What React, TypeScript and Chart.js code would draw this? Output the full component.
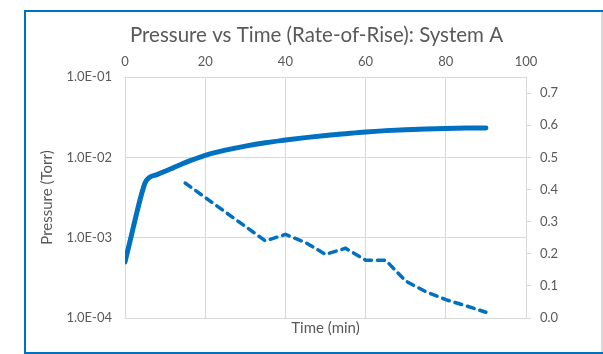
import React, { useEffect, useRef } from "react";
import { Chart, registerables } from "chart.js";

Chart.register(...registerables);

const chartTitle = "Pressure vs Time (Rate-of-Rise): System A";
const xAxisTitle = "Time (min)";
const yAxisTitle = "Pressure (Torr)";

const pressureTime = [0, 1, 2, 3, 4, 5, 6, 8, 10, 12, 15, 20, 25, 30, 35, 40, 45, 50, 55, 60, 65, 70, 75, 80, 85, 90];
const pressureTorr = [
  5.0e-4, 8.0e-4, 1.3e-3, 2.1e-3, 3.3e-3, 4.8e-3, 5.6e-3, 6.1e-3, 6.7e-3, 7.4e-3, 8.6e-3,
  1.06e-2, 1.23e-2, 1.38e-2, 1.52e-2, 1.64e-2, 1.76e-2, 1.87e-2, 1.97e-2, 2.07e-2, 2.15e-2,
  2.21e-2, 2.26e-2, 2.29e-2, 2.31e-2, 2.32e-2,
];

const riseTime = [15, 20, 25, 30, 35, 40, 45, 50, 55, 60, 65, 70, 75, 80, 85, 90];
const riseValues = [0.42, 0.375, 0.33, 0.285, 0.24, 0.26, 0.235, 0.198, 0.217, 0.18, 0.18, 0.115, 0.082, 0.057, 0.038, 0.018];

const timeTicks = [0, 20, 40, 60, 80, 100];
const pressureTicks = [1e-4, 1e-3, 1e-2, 1e-1];
const riseTicks = [0, 0.1, 0.2, 0.3, 0.4, 0.5, 0.6, 0.7];

const BLUE = "#0070C0";
const TEXT = "#595959";
const GRID = "#d9d9d9";
const FONT = "Lato, 'Open Sans', sans-serif";

function sci(v: number): string {
  const [m, e] = v.toExponential(1).split("e");
  const n = parseInt(e, 10);
  const sign = n < 0 ? "-" : "+";
  return `${m}E${sign}${String(Math.abs(n)).padStart(2, "0")}`;
}

export default function App() {
  const ref = useRef<HTMLCanvasElement | null>(null);

  useEffect(() => {
    if (!ref.current) return;
    const chart = new Chart(ref.current, {
      type: "line",
      data: {
        datasets: [
          {
            label: "Pressure",
            data: pressureTime.map((t, i) => ({ x: t, y: pressureTorr[i] })),
            borderColor: BLUE,
            backgroundColor: BLUE,
            borderWidth: 5,
            pointRadius: 0,
            cubicInterpolationMode: "monotone",
            borderCapStyle: "round",
            borderJoinStyle: "round",
            xAxisID: "x",
            yAxisID: "y",
          },
          {
            label: "Rate of rise",
            data: riseTime.map((t, i) => ({ x: t, y: riseValues[i] })),
            borderColor: BLUE,
            backgroundColor: BLUE,
            borderWidth: 3.5,
            borderDash: [7, 6],
            borderCapStyle: "round",
            pointRadius: 0,
            tension: 0,
            xAxisID: "x",
            yAxisID: "y2",
          },
        ],
      },
      options: {
        responsive: false,
        animation: false,
        layout: { padding: { left: 30, right: 0, top: 0, bottom: 0 } },
        plugins: {
          legend: { display: false },
          tooltip: { enabled: false },
          title: {
            display: true,
            text: chartTitle,
            color: TEXT,
            font: { family: FONT, size: 20.5, weight: "normal" },
            padding: { top: 22.7, bottom: 0 },
          },
        },
        scales: {
          x: {
            type: "linear",
            position: "top",
            min: 0,
            max: 100,
            afterBuildTicks: (s: any) => {
              s.ticks = timeTicks.map((v) => ({ value: v }));
            },
            afterFit: (s: any) => {
              s.height = 29.7;
            },
            ticks: { color: TEXT, font: { family: FONT, size: 13 }, padding: 7.2, maxRotation: 0 },
            grid: { color: GRID, drawTicks: false, lineWidth: 1 },
            border: { display: true, color: GRID },
          },
          xb: {
            type: "linear",
            position: "bottom",
            min: 0,
            max: 100,
            afterFit: (s: any) => {
              s.height = 36;
            },
            ticks: { display: false },
            grid: { display: false },
            border: { display: true, color: GRID },
            title: {
              display: true,
              text: xAxisTitle,
              color: TEXT,
              font: { family: FONT, size: 15 },
              padding: { top: 0, bottom: 17 },
            },
          },
          y: {
            type: "logarithmic",
            position: "left",
            min: 1e-4,
            max: 1e-1,
            afterBuildTicks: (s: any) => {
              s.ticks = pressureTicks.map((v) => ({ value: v }));
            },
            afterFit: (s: any) => {
              s.width = 95;
            },
            ticks: {
              color: TEXT,
              font: { family: FONT, size: 13 },
              padding: 13,
              callback: (v: any) => sci(Number(v)),
            },
            grid: { color: GRID, drawTicks: false },
            border: { display: true, color: GRID },
            title: {
              display: true,
              text: yAxisTitle,
              color: TEXT,
              font: { family: FONT, size: 15 },
              padding: { top: 8, bottom: 0 },
            },
          },
          y2: {
            type: "linear",
            position: "right",
            min: 0,
            max: 0.75,
            afterBuildTicks: (s: any) => {
              s.ticks = riseTicks.map((v) => ({ value: v }));
            },
            afterFit: (s: any) => {
              s.width = 77;
            },
            ticks: {
              color: TEXT,
              font: { family: FONT, size: 13 },
              padding: 9,
              callback: (v: any) => Number(v).toFixed(1),
            },
            grid: { drawOnChartArea: false, drawTicks: true, tickLength: 5, color: GRID },
            border: { display: true, color: GRID },
          },
        },
      },
    } as any);
    return () => chart.destroy();
  }, []);

  return (
    <div style={{ position: "fixed", left: 0, top: 0, width: 603, height: 354, background: "#fff", overflow: "hidden" }}>
      <canvas ref={ref} width={603} height={354} style={{ display: "block", width: 603, height: 354 }} />
      <div
        style={{
          position: "absolute",
          left: 24,
          top: 10,
          width: 600,
          height: 344,
          boxSizing: "border-box",
          borderTop: `2px solid ${BLUE}`,
          borderLeft: `2px solid ${BLUE}`,
          borderBottom: `2px solid ${BLUE}`,
          pointerEvents: "none",
        }}
      />
      <div
        style={{
          position: "absolute",
          left: 601,
          top: 12,
          width: 2,
          height: 340,
          background: "#d9d9d9",
          pointerEvents: "none",
        }}
      />
    </div>
  );
}
